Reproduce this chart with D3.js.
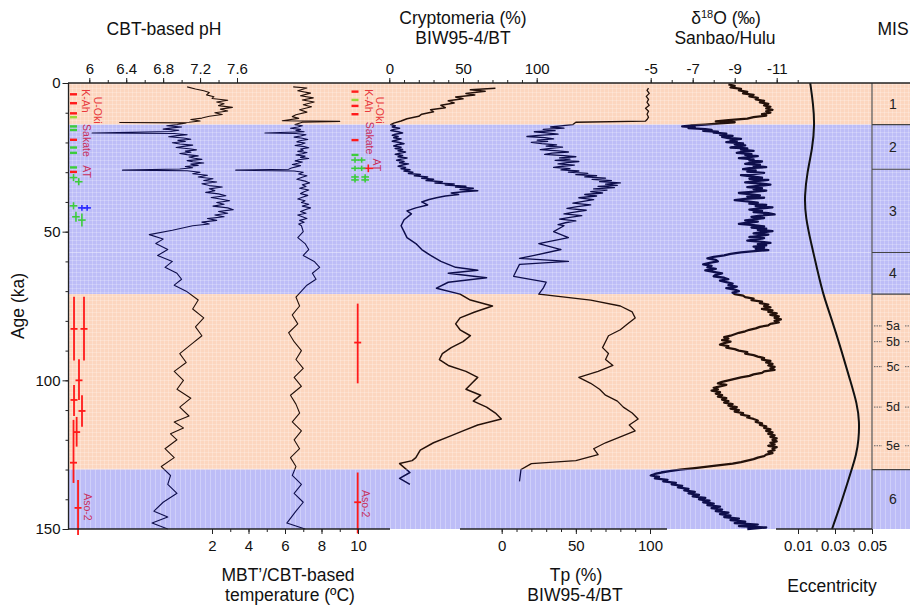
<!DOCTYPE html>
<html><head><meta charset="utf-8">
<script src="https://cdn.jsdelivr.net/npm/d3@7"></script>
<style>body{margin:0;background:#fff;} text{font-family:Arial,"Liberation Sans",sans-serif;}</style>
</head><body><svg id="c" width="910" height="605"></svg>
<script>
// ---------------- DATA ----------------
const misBands = [
  {from:0,to:14,kind:'warm',label:'1'},
  {from:14,to:29,kind:'cold',label:'2'},
  {from:29,to:57,kind:'cold',label:'3'},
  {from:57,to:71,kind:'cold',label:'4'},
  {from:71,to:130,kind:'warm',label:''},
  {from:130,to:150,kind:'cold',label:'6'}
];
const subStages = [['5a',81.7],['5b',87],['5c',95.4],['5d',109],['5e',122]];

const ageTicks = [0,50,100,150];
const phTicks = [6,6.4,6.8,7.2,7.6];
const tempTicks = [2,4,6,8,10];
const cryTicks = [0,50,100];
const tpTicks = [0,50,100];
const d18Ticks = [-5,-7,-9,-11];
const eccTicks = [0.01,0.03,0.05];

// [age ka, pH]
const phData = [[1.3,7.06],[2.0,7.15],[2.6,7.24],[3.2,7.30],[4.0,7.27],[4.6,7.35],[5.2,7.33],[5.8,7.50],[6.4,7.38],[7.0,7.46],[7.6,7.40],[8.2,7.55],[8.8,7.42],[9.4,7.50],[10.0,7.36],[10.6,7.44],[11.2,7.30],[11.8,7.22],[12.3,7.10],[12.8,7.20],[13.2,7.08],[13.3,6.33],[13.4,7.05],
[14.0,6.95],[14.4,6.84],[14.8,7.00],[15.1,6.90],[15.5,6.80],[15.9,6.97],[16.3,6.88],[16.8,6.03],[17.0,6.92],[17.4,7.06],[17.7,6.95],[18.1,6.86],[18.5,7.02],[18.9,7.10],[19.3,6.96],[19.7,7.04],[20.1,6.90],[20.5,6.98],[20.9,7.12],[21.3,7.02],[21.7,6.94],[22.1,7.08],[22.5,7.16],[22.9,7.04],[23.3,7.10],[23.7,6.98],[24.1,7.06],[24.5,7.18],[24.9,7.08],[25.3,7.14],[25.7,7.22],[26.1,7.06],[26.5,7.12],[26.9,7.24],[27.3,7.10],[27.7,7.18],[28.1,7.04],[28.5,7.12],[28.9,6.98],[29.3,6.36],[29.5,7.06],
[30.0,7.20],[30.5,7.12],[31.0,7.28],[31.6,7.18],[32.2,7.34],[32.8,7.24],[33.3,7.38],[33.9,7.22],[34.5,7.30],[35.0,7.44],[35.6,7.30],[36.2,7.36],[36.8,7.26],[37.3,7.40],[37.9,7.48],[38.5,7.32],[39.0,7.42],[39.6,7.52],[40.2,7.38],[40.8,7.46],[41.4,7.34],[42.0,7.50],[42.6,7.56],[43.2,7.40],[43.8,7.50],[44.4,7.36],[45.0,7.46],[45.6,7.28],[46.2,7.38],[46.8,7.22],[47.4,7.30],[48.0,7.12],
[49.5,6.90],[51,6.65],[52.5,6.80],[54,6.72],[56,6.85],[58,6.74],[60,6.90],[62,6.82],[64,6.95],[66,7.00],[68,6.92],[70,7.05],[73,7.18],[76,7.12],[79,7.24],[82,7.15],[85,7.22],[88,7.10],[91,6.98],[94,7.05],[97,6.92],[100,7.02],[103,6.95],[106,7.10],[109,6.98],[112,7.08],[114,6.92],[116,7.02],[118,6.88],[120,6.95],[123,6.82],[126,6.92],[129,6.78],[132,6.88],[135,6.85],[138,6.95],[141,6.80],[144,6.70],[146,6.85],[148,6.68],[150,6.85]];

// [age ka, MBT'/CBT temperature °C]
const tempData = [[1.3,6.45],[1.7,7.20],[2.6,6.70],[3.4,7.40],[4.3,6.85],[5.0,7.55],[5.7,6.95],[6.4,7.60],[7.3,7.0],[8.0,7.45],[9.0,6.80],[9.8,7.20],[10.7,6.60],[11.3,6.40],[11.9,6.75],[12.7,5.85],[12.9,9.0],[13.2,6.95],
[14.0,6.55],[14.4,6.95],[14.8,6.70],[15.2,6.30],[15.6,6.85],[16.0,6.60],[16.4,7.05],[16.8,4.9],[17.0,6.6],[17.4,7.15],[17.8,6.85],[18.2,6.50],[18.6,6.95],[19.0,7.25],[19.4,6.80],[19.8,6.65],[20.2,7.10],[20.6,6.90],[21.0,6.55],[21.4,7.05],[21.8,7.30],[22.2,6.85],[22.6,7.00],[23.0,6.70],[23.4,7.20],[23.8,6.95],[24.2,6.60],[24.6,7.10],[25.0,6.85],[25.4,7.30],[25.8,6.75],[26.2,6.55],[26.6,6.95],[27.0,6.70],[27.4,6.40],[27.8,6.85],[28.2,6.60],[28.6,6.35],[29.0,6.20],[29.3,3.3],[29.6,6.5],
[30.0,7.0],[30.6,6.75],[31.2,7.20],[31.8,6.90],[32.4,6.65],[33.0,7.10],[33.6,7.35],[34.2,6.95],[34.8,7.15],[35.4,6.80],[36.0,7.30],[36.6,7.05],[37.2,6.85],[37.8,7.25],[38.4,6.95],[39.0,6.70],[39.6,7.10],[40.2,6.90],[40.8,7.30],[41.4,6.95],[42.0,7.40],[42.6,7.10],[43.2,6.85],[43.8,7.15],[44.4,6.70],[45.0,6.95],[45.6,7.20],[46.2,6.80],[46.8,7.05],[47.4,6.75],[48.0,6.9],
[50,7.0],[52,6.7],[54,7.1],[56,7.3],[58,7.0],[60,7.6],[62,7.9],[64,7.5],[66,7.7],[68,7.2],[70,6.9],[72,6.6],[75,6.8],[78,6.4],[81,6.7],[84,6.2],[87,6.5],[90,6.9],[93,6.6],[96,7.0],[99,6.5],[102,6.9],[105,6.3],[108,6.6],[111,6.8],[114,6.4],[117,6.9],[120,6.5],[123,6.8],[126,6.3],[129,6.6],[132,6.4],[135,6.9],[138,6.5],[141,7.0],[144,6.6],[148,6.1],[150,7.1]];

// [age ka, Cryptomeria %]
const cryData = [[1.8,72],[2.3,55],[2.8,65],[3.5,52],[4.0,58],[4.7,45],[5.3,50],[6.0,40],[6.7,44],[7.5,35],[8.3,38],[9.0,28],[9.7,30],[10.5,22],[11.2,20],[12.0,12],[12.8,8],[13.5,3],
[14.0,1],[14.4,4],[14.8,2],[15.2,7],[15.6,3],[16.0,1],[16.4,6],[16.8,9],[17.2,4],[17.6,2],[18.0,6],[18.4,3],[18.8,8],[19.2,5],[19.6,2],[20.0,7],[20.4,10],[20.8,5],[21.2,3],[21.6,8],[22.0,4],[22.4,9],[22.8,6],[23.2,11],[23.6,7],[24.0,4],[24.4,9],[24.8,6],[25.2,12],[25.6,8],[26.0,5],[26.4,10],[26.8,7],[27.2,13],[27.6,9],[28.0,6],[28.4,11],[28.8,8],[29.2,14],
[29.6,10],[30.0,16],[30.4,13],[30.8,21],[31.2,17],[31.6,26],[32.0,22],[32.4,30],[32.8,25],[33.2,36],[33.6,31],[34.0,44],[34.3,38],[34.7,52],[35.0,45],[35.4,57],[35.8,48],[36.2,60],[36.6,50],[37.0,42],[37.5,47],[38.0,38],[38.6,32],[39.2,27],[40,22],[41,26],[42,18],[43,12],[44,15],[46,10],[48,8],
[50,10],[52,12],[54,18],[56,22],[58,28],[60,35],[62,45],[63,60],[64,40],[65.5,66],[67,40],[69,32],[71,48],[73,55],[75,70],[77,58],[79,48],[81,45],[83,48],[85,55],[87,50],[89,42],[91,36],[93,34],[95,40],[97,52],[99,60],[101,56],[103,52],[105,62],[107,57],[109,66],[111,72],[113,76],[115,60],[117,50],[119,40],[121,30],[123.5,21],[126,18],[127,15.5],[128,7],[131,14],[133,7],[135,14]];

// [age ka, Tp %]
const tpData = [[1.7,99],[2.5,98],[3.5,99.5],[4.5,97.5],[5.5,99],[6.5,98],[7.5,99.5],[8.5,97],[9.5,99],[10.5,98],[11.5,99],[12.3,98],[12.8,97],[13.2,50],
[14.0,48],[14.4,40],[14.8,33],[15.2,42],[15.6,28],[16.0,36],[16.4,22],[16.8,30],[17.2,38],[17.6,25],[18.0,17],[18.4,29],[18.8,35],[19.2,24],[19.6,31],[20.0,20],[20.4,27],[20.8,37],[21.2,30],[21.6,41],[22.0,33],[22.4,26],[22.8,38],[23.2,45],[23.6,34],[24.0,29],[24.4,42],[24.8,50],[25.2,39],[25.6,46],[26.0,36],[26.4,52],[26.8,44],[27.2,38],[27.6,49],[28.0,41],[28.4,35],[28.8,46],[29.2,40],
[29.6,52],[30.0,45],[30.4,58],[30.8,50],[31.2,64],[31.6,56],[32.0,70],[32.4,61],[32.8,74],[33.2,66],[33.6,80],[34.0,70],[34.4,78],[34.8,65],[35.2,76],[35.6,62],[36.0,71],[36.5,60],[37.0,68],[37.5,56],[38.0,64],[38.6,52],[39.2,62],[39.8,55],[40.4,48],[41.0,60],[41.6,51],[42.2,44],[42.8,57],[43.4,49],[44.0,42],[44.6,54],[45.2,46],[45.8,39],[46.4,50],[47.0,43],[47.6,38],[48.0,42],
[50,35],[52,45],[54,25],[56,40],[58,22],[59,12],[60,45],[61,12],[63,10],[65,8],[67,30],[69,28],[71,25],[73,60],[75,80],[77,88],[79,90],[81,85],[83,80],[85,72],[87,70],[89,68],[91,72],[93,70],[95,75],[97,65],[99,52],[101,60],[103,66],[105,70],[107,78],[109,82],[111,88],[113,92],[115,86],[117,90],[119,80],[121,70],[123,62],[125,65],[127,50],[128,20],[130,13],[134,12]];

// [age ka, δ18O ‰]
const d18Data = [[0.5,-8.7],[1.0,-9.0],[1.5,-8.8],[2.0,-9.3],[2.5,-9.2],[3.0,-9.6],[3.5,-9.4],[4.0,-9.9],[4.5,-9.7],[5.0,-10.1],[5.5,-10.0],[6.0,-10.4],[6.5,-10.2],[7.0,-10.6],[7.5,-10.4],[8.0,-10.7],[8.5,-10.5],[9.0,-10.8],[9.5,-10.5],[10.0,-10.7],[10.5,-10.3],[11.0,-10.5],[11.5,-9.9],[12.0,-9.6],[12.5,-8.7],[12.9,-8.1],[13.2,-9.0],[13.6,-8.3],
[14.0,-7.6],[14.3,-6.9],[14.6,-6.5],[14.9,-7.1],[15.2,-6.8],[15.5,-7.6],[15.8,-7.9],[16.1,-7.5],[16.4,-8.2],[16.7,-8.0],[17.0,-8.6],[17.4,-8.3],[17.8,-8.9],[18.1,-8.4],[18.5,-8.7],[18.8,-9.3],[19.2,-8.8],[19.5,-9.1],[19.9,-8.6],[20.3,-9.4],[20.6,-9.0],[21.0,-9.5],[21.3,-9.2],[21.7,-8.8],[22.0,-9.6],[22.4,-9.3],[22.8,-9.9],[23.1,-9.4],[23.5,-9.1],[23.9,-9.8],[24.2,-9.5],[24.6,-10.1],[25.0,-9.6],[25.3,-9.2],[25.7,-9.9],[26.1,-9.7],[26.4,-10.3],[26.8,-9.8],[27.2,-9.5],[27.5,-10.2],[27.9,-9.9],[28.3,-10.5],[28.6,-9.7],[29.0,-9.4],[29.4,-10.0],[29.8,-9.6],[30.2,-10.4],[30.6,-9.9],[31.0,-9.3],[31.4,-9.8],[31.8,-10.3],[32.2,-9.7],[32.6,-10.6],[33.0,-10.0],[33.4,-9.5],[33.8,-10.2],[34.2,-10.7],[34.6,-10.1],[35.0,-9.6],[35.4,-10.3],[35.8,-9.9],[36.2,-10.5],[36.6,-9.8],[37.0,-9.2],[37.4,-9.7],[37.8,-10.2],[38.2,-9.6],[38.6,-10.4],[39.0,-9.5],[39.4,-9.0],[39.8,-9.6],[40.2,-10.1],[40.6,-9.7],[41.0,-10.5],[41.4,-10.0],[41.8,-10.8],[42.2,-10.2],[42.6,-9.7],[43.0,-10.3],[43.4,-9.9],[43.8,-10.6],[44.2,-10.9],[44.6,-10.2],[45.0,-9.8],[45.4,-10.4],[45.8,-10.0],[46.2,-9.5],[46.6,-10.1],[47.0,-9.6],[47.4,-9.2],[47.8,-9.9],[48.2,-10.4],[48.6,-9.8],[49.0,-10.5],[49.4,-10.1],[49.8,-10.8],[50.2,-10.3],[50.6,-9.9],[51.0,-10.6],[51.4,-10.2],[51.8,-9.7],[52.2,-10.4],[52.6,-10.0],[53.0,-9.6],[53.4,-10.3],[53.8,-10.7],[54.2,-10.1],[54.6,-10.5],[55.0,-9.9],[55.4,-10.4],[55.8,-10.0],[56.2,-10.6],[56.6,-9.8],[57.0,-9.3],
[57.5,-8.8],[58,-8.5],[58.5,-8.0],[59,-7.7],[59.5,-8.1],[60,-8.2],[60.5,-7.8],[61,-7.5],[61.5,-7.9],[62,-7.7],[62.5,-8.1],[63,-7.6],[63.5,-8.0],[64,-8.4],[64.5,-8.1],[65,-8.0],[65.5,-8.5],[66,-8.7],[66.5,-8.3],[67,-8.6],[67.5,-8.9],[68,-8.7],[68.5,-9.1],[69,-8.6],[69.5,-9.0],[70,-9.2],[70.5,-8.9],
[71.0,-9.0],[71.5,-9.4],[72.0,-9.5],[72.5,-9.9],[73.0,-9.8],[73.5,-10.3],[74.0,-10.2],[74.5,-10.6],[75.0,-10.4],[75.5,-10.7],[76.0,-10.3],[76.5,-10.8],[77.0,-10.6],[77.5,-11.0],[78.0,-10.7],[78.5,-11.1],[79.0,-10.9],[79.5,-11.2],[80.0,-10.9],[80.5,-11.1],[81.0,-10.7],[81.5,-10.6],[82.0,-10.2],[82.5,-10.0],[83.0,-9.7],[83.5,-9.5],[84.0,-9.2],[84.5,-9.0],[85.0,-8.8],[85.5,-8.5],[86.0,-8.7],[86.5,-8.4],[87.0,-8.8],[87.5,-8.5],[88.0,-8.3],[88.5,-8.7],[89.0,-8.6],[89.5,-9.0],[90.0,-9.2],[90.5,-9.6],[91.0,-9.5],[91.5,-9.9],[92.0,-10.1],[92.5,-10.4],[93.0,-10.3],[93.5,-10.7],[94.0,-10.5],[94.5,-10.8],[95.0,-10.6],[95.5,-10.9],[96.0,-10.7],[96.5,-10.9],[97.0,-10.4],[97.5,-10.3],[98.0,-9.9],[98.5,-9.7],[99.0,-9.3],[99.5,-9.0],[100.0,-8.7],[100.5,-8.4],[101.0,-8.2],[101.5,-8.6],[102.0,-8.3],[102.5,-8.0],[103.0,-8.2],[103.5,-7.9],[104.0,-8.3],[104.5,-8.1],[105.0,-8.4],[105.5,-8.2],[106.0,-8.6],[106.5,-8.4],[107.0,-8.7],[107.5,-8.5],[108.0,-8.9],[108.5,-8.7],[109.0,-9.1],[109.5,-8.8],[110.0,-9.2],[110.5,-9.0],[111.0,-9.4],[111.5,-9.3],[112.0,-9.7],[112.5,-9.6],[113.0,-9.9],[113.5,-10.1],[114.0,-10.0],[114.5,-10.3],[115.0,-10.2],[115.5,-10.5],[116.0,-10.4],[116.5,-10.7],[117.0,-10.5],[117.5,-10.8],[118.0,-10.6],[118.5,-10.9],[119.0,-10.7],[119.5,-11.0],[120.0,-10.8],[120.5,-11.0],[121.0,-10.7],[121.5,-10.9],[122.0,-10.6],[122.5,-11.0],[123.0,-10.8],[123.5,-10.9],[124.0,-10.6],[124.5,-10.8],[125.0,-10.5],[125.5,-10.4],[126.0,-10.1],[126.5,-9.9],[127.0,-9.6],[127.5,-9.3],[128.0,-8.9],[128.5,-8.3],[129.0,-7.7],[129.5,-7.1],[130.0,-6.4],
[130.5,-5.9],[131,-5.5],[131.5,-5.2],[132,-5.0],[132.5,-5.4],[133,-5.2],[133.5,-5.8],[134,-5.6],[134.5,-6.2],[135,-6.0],[135.5,-6.5],[136,-6.3],[136.5,-6.8],[137,-6.6],[137.5,-7.1],[138,-6.8],[138.5,-7.3],[139,-7.0],[139.5,-7.6],[140,-7.3],[140.5,-7.8],[141,-7.5],[141.5,-8.0],[142,-7.7],[142.5,-8.3],[143,-7.9],[143.5,-8.4],[144,-8.1],[144.5,-8.7],[145,-8.3],[145.5,-8.8],[146,-8.5],[146.5,-9.2],[147,-8.8],[147.5,-9.5],[148,-9.0],[148.5,-10.1],[149,-9.2],[149.5,-10.5],[150,-9.6]];

// [age ka, eccentricity]
const eccData = [[0,0.0166],[7,0.0182],[14,0.0190],[22,0.0178],[30,0.0150],[38,0.0135],[45,0.0140],[55,0.0175],[63,0.0205],[71,0.0235],[80,0.0285],[90,0.0335],[100,0.0382],[108,0.0420],[114,0.0432],[120,0.0428],[125,0.0415],[130,0.0390],[140,0.0340],[150,0.0284]];

// Tephra markers: column, age, lane within column, colour key
const tephraDashes = [
  ['A',3.8,0,'r'],['A',6.8,0,'r'],['A',10.2,0,'r'],['A',11.5,0,'lg'],['A',14.6,0,'g'],['A',15.8,0,'g'],['A',19.1,0,'r'],['A',21.7,0,'g'],['A',23.5,0,'g'],['A',28.4,0,'g'],['A',29.9,0,'r'],
  ['B',2.9,0,'r'],['B',5.7,0,'lg'],['B',7.7,0,'r'],['B',10.5,0,'r'],['B',19.2,0,'r'],['B',24.2,0,'g']
];
// column, age, lane, colour, ± error (ka)
const tephraCrosses = [
  ['A',31.8,0,'g',1.2],['A',33.2,1.5,'g',1.2],['A',41.3,0,'g',1.2],['A',42.0,2.4,'b',1.0],['A',42.0,3.9,'b',1.0],['A',45.0,0.7,'g',1.7],['A',46.1,2.4,'g',2.2],
  ['B',25.9,0,'g',0.9],['B',25.9,1.9,'g',0.9],['B',28.7,3.8,'r',1.3],['B',28.7,0,'g',0.9],['B',28.7,1.9,'g',0.9],['B',31.6,0,'g',0.9],['B',31.6,2.9,'g',0.9],['B',32.6,0,'g',0.9],['B',32.6,2.9,'g',0.9]
];
// column, age, min age, max age, lane
const tephraBars = [
  ['A',82.7,71.9,93.3,0.15],['A',82.7,71.9,93.3,3.0],['A',100,92.9,106.6,1.57],['A',106.6,101.6,112.0,0.15],['A',110.3,105,115.6,2.43],['A',117.4,112.3,122.3,0.9],['A',127.7,113.3,134.5,0],['A',142.9,133.5,152,1.3],
  ['B',87.3,74.2,101,0.77],['B',141,131,151.5,0.77]
];
// column, name, centre age, lane, colour key
const tephraNames = [
  ['A','U-Oki',9.1,7,'lr'],['A','K-Ah',6.0,3.6,'lr'],['A','Sakate',19.3,3.8,'lp'],['A','AT',29.8,3.8,'lp'],['A','Aso-2',142.6,4.1,'lp'],
  ['B','U-Oki',9.1,7.1,'lr'],['B','K-Ah',6.0,4.0,'lr'],['B','Sakate',18.5,4.3,'lp'],['B','AT',27.5,6.3,'lp'],['B','Aso-2',141.5,3.1,'lp']
];

// ---------------- STYLE ----------------
const col = {warm:'#fcd6bf', cold:'#bdbdf7'};
const lineCol = {warm:'#24110a', cold:'#0e0e4c'};
const tCol = {r:'#ff1a1a', g:'#3ccc3c', lg:'#9ad83a', b:'#2a2aff', lr:'#e8383c', lp:'#c8305c'};

const svg = d3.select('#c');
const y = d3.scaleLinear().domain([0,150]).range([83,529]);
const xPH = d3.scaleLinear().domain([6,7.6]).range([89.3,237]);
const xT = d3.scaleLinear().domain([2,10]).range([212,358]);
const xCry = d3.scaleLinear().domain([0,100]).range([389.3,536.7]);
const xTp = d3.scaleLinear().domain([0,100]).range([501.7,650]);
const xO = d3.scaleLinear().domain([-5,-11]).range([650.7,776.7]);
const xE = d3.scaleLinear().domain([0.01,0.05]).range([798,872]);
const lane = {A: d3.scaleLinear().domain([0,4]).range([73.5,87.5]),
              B: d3.scaleLinear().domain([0,4]).range([355,369])};

const defs = svg.append('defs');
const pat = defs.append('pattern').attr('id','tex').attr('width',4).attr('height',4).attr('patternUnits','userSpaceOnUse');
pat.append('path').attr('d','M0 0.5H4M0.5 0V4').attr('stroke','#fff').attr('stroke-opacity',0.22).attr('stroke-width',1);
const pat2 = defs.append('pattern').attr('id','tex2').attr('width',5).attr('height',4).attr('patternUnits','userSpaceOnUse');
pat2.append('path').attr('d','M0.5 0V4').attr('stroke','#fff').attr('stroke-opacity',0.28).attr('stroke-width',1);

['warm','cold'].forEach(k=>{
  const cp = defs.append('clipPath').attr('id','clip-'+k);
  misBands.filter(b=>b.kind===k).forEach(b=>{
    const y0 = b.from===0 ? 60 : y(b.from);
    const y1 = b.to===150 ? 545 : y(b.to);
    cp.append('rect').attr('x',60).attr('width',830).attr('y',y0).attr('height',y1-y0);
  });
});

// backgrounds
const XL = 69, XR = 910, XMIS = 872;
svg.append('g').selectAll('rect').data(misBands).join('rect')
  .attr('x',XL).attr('width',XR-XL).attr('y',d=>y(d.from)).attr('height',d=>y(d.to)-y(d.from))
  .attr('fill',d=>col[d.kind]);
svg.append('g').selectAll('rect').data(misBands).join('rect')
  .attr('x',XL).attr('width',XR-XL).attr('y',d=>y(d.from)).attr('height',d=>y(d.to)-y(d.from))
  .attr('fill',d=>d.from===130?'url(#tex2)':'url(#tex)');

// curves
const series = [
  {data:phData, x:xPH, w:1.1},
  {data:tempData, x:xT, w:1.1},
  {data:cryData, x:xCry, w:1.5},
  {data:tpData, x:xTp, w:1.3},
  {data:d18Data, x:xO, w:2.3}
];
const gl = svg.append('g').attr('fill','none').attr('stroke-linejoin','round');
series.forEach(s=>{
  const line = d3.line().x(d=>s.x(d[1])).y(d=>y(d[0]));
  ['warm','cold'].forEach(k=>{
    gl.append('path').datum(s.data).attr('d',line).attr('stroke',lineCol[k]).attr('stroke-width',s.w)
      .attr('clip-path','url(#clip-'+k+')');
  });
});
gl.append('path').datum(eccData)
  .attr('d',d3.line().x(d=>xE(d[1])).y(d=>y(d[0])).curve(d3.curveBasis))
  .attr('stroke','#111').attr('stroke-width',2);

// tephra
const gt = svg.append('g');
gt.selectAll('.dash').data(tephraDashes).join('rect')
  .attr('x',d=>lane[d[0]](d[2])-3.5).attr('y',d=>y(d[1])-1.2).attr('width',7).attr('height',2.4)
  .attr('fill',d=>tCol[d[3]]);
tephraCrosses.forEach(d=>{
  const cx = lane[d[0]](d[2]), cy = y(d[1]);
  const w = d[3]==='r'?5:3.8;
  gt.append('line').attr('x1',cx-w).attr('x2',cx+w).attr('y1',cy).attr('y2',cy).attr('stroke',tCol[d[3]]).attr('stroke-width',1.6);
  gt.append('line').attr('x1',cx).attr('x2',cx).attr('y1',y(d[1]-d[4])).attr('y2',y(d[1]+d[4])).attr('stroke',tCol[d[3]]).attr('stroke-width',1.6);
});
tephraBars.forEach(d=>{
  const cx = lane[d[0]](d[4]), cy = y(d[1]);
  gt.append('line').attr('x1',cx-3.5).attr('x2',cx+3.5).attr('y1',cy).attr('y2',cy).attr('stroke',tCol.r).attr('stroke-width',1.8);
  gt.append('line').attr('x1',cx).attr('x2',cx).attr('y1',y(d[2])).attr('y2',y(d[3])).attr('stroke',tCol.r).attr('stroke-width',1.8);
});
gt.selectAll('.tn').data(tephraNames).join('text')
  .attr('transform',d=>`translate(${lane[d[0]](d[3])},${y(d[2])}) rotate(90)`)
  .attr('text-anchor','middle').attr('dy','0.35em').attr('font-size',10.5)
  .attr('fill',d=>tCol[d[4]]).text(d=>d[1]);

// MIS column
const gm = svg.append('g');
gm.append('line').attr('x1',XMIS).attr('x2',XMIS).attr('y1',83).attr('y2',529).attr('stroke','#555').attr('stroke-width',1.2);
gm.selectAll('.mb').data(misBands.slice(1)).join('line')
  .attr('x1',XMIS).attr('x2',XR).attr('y1',d=>y(d.from)).attr('y2',d=>y(d.from)).attr('stroke','#444').attr('stroke-width',1.2);
gm.selectAll('.ml').data(misBands.filter(d=>d.label)).join('text')
  .attr('x',893).attr('y',d=>y((d.from+d.to)/2)).attr('dy','0.35em').attr('text-anchor','middle')
  .attr('font-size',14).attr('fill','#222').text(d=>d.label);
subStages.forEach(s=>{
  const yy = y(s[1]);
  gm.append('text').attr('x',893).attr('y',yy).attr('dy','0.35em').attr('text-anchor','middle').attr('font-size',12.5).attr('fill','#222').text(s[0]);
  gm.append('line').attr('x1',874).attr('x2',882).attr('y1',yy).attr('y2',yy).attr('stroke','#666').attr('stroke-dasharray','1.5,1');
  gm.append('line').attr('x1',905).attr('x2',910).attr('y1',yy).attr('y2',yy).attr('stroke','#666').attr('stroke-dasharray','1.5,1');
});

// axes
function styleAxis(g){ g.select('.domain').remove(); g.selectAll('text').attr('font-size',15).attr('fill','#111').attr('font-family','Arial, "Liberation Sans", sans-serif'); g.selectAll('line').attr('stroke','#222'); }
function range(a,b,s){ const r=[]; for(let v=a; v<=b+1e-9; v+=s) r.push(+v.toFixed(4)); return r; }

// y axis
svg.append('g').attr('transform','translate(68.5,0)').call(d3.axisLeft(y).tickValues(range(0,150,10)).tickSize(3).tickFormat('')).call(styleAxis);
svg.append('g').attr('transform','translate(68.5,0)').call(d3.axisLeft(y).tickValues(ageTicks).tickSize(6).tickPadding(2).tickFormat(d3.format('d'))).call(styleAxis);
svg.append('line').attr('x1',68.5).attr('x2',68.5).attr('y1',83).attr('y2',529).attr('stroke','#222').attr('stroke-width',1.3);

// top axes
const topAx = (sc, minor, major, fmt)=>{
  svg.append('g').attr('transform','translate(0,83)').call(d3.axisTop(sc).tickValues(minor).tickSize(3).tickFormat('')).call(styleAxis);
  svg.append('g').attr('transform','translate(0,83)').call(d3.axisTop(sc).tickValues(major).tickSize(5).tickPadding(4).tickFormat(fmt)).call(styleAxis);
};
topAx(xPH, range(6,7.6,0.2), phTicks, d3.format('.1~f'));
topAx(xCry, range(0,100,10), cryTicks, d3.format('d'));
topAx(xO, range(-12,-5,1), d18Ticks, d=>String(d).replace('−','-'));
svg.append('line').attr('x1',68).attr('x2',XR).attr('y1',83).attr('y2',83).attr('stroke','#222').attr('stroke-width',1.3);

// bottom axes
const botAx = (sc, minor, major, fmt, x0, x1)=>{
  svg.append('g').attr('transform','translate(0,529)').call(d3.axisBottom(sc).tickValues(minor).tickSize(3).tickFormat('')).call(styleAxis);
  svg.append('g').attr('transform','translate(0,529)').call(d3.axisBottom(sc).tickValues(major).tickSize(5).tickPadding(6).tickFormat(fmt)).call(styleAxis);
  svg.append('line').attr('x1',x0).attr('x2',x1).attr('y1',529).attr('y2',529).attr('stroke','#222').attr('stroke-width',1.3);
};
botAx(xT, range(2,10,1), tempTicks, d3.format('d'), 68, 390);
botAx(xTp, range(0,100,10), tpTicks, d3.format('d'), 460, 667);
botAx(xE, range(0.01,0.05,0.01), eccTicks, d3.format('.2f'), 776, 872);

// titles
const T = (x,yy,s,size)=>svg.append('text').attr('x',x).attr('y',yy).attr('text-anchor','middle').attr('font-size',size||17.5).attr('fill','#111').text(s);
T(164,35,'CBT-based pH');
T(463,24,'Cryptomeria (%)');
T(463,44,'BIW95-4/BT');
const dt = svg.append('text').attr('x',726).attr('y',24).attr('text-anchor','middle').attr('font-size',17.5).attr('fill','#111');
dt.append('tspan').text('δ');
dt.append('tspan').attr('font-size',11).attr('dy',-6).text('18');
dt.append('tspan').attr('dy',6).text('O (‰)');
T(725,44,'Sanbao/Hulu');
T(893,35,'MIS');
T(288,581,'MBT\u2019/CBT-based');
T(290,601,'temperature (ºC)');
T(576,581,'Tp (%)');
T(575,601,'BIW95-4/BT');
T(832,592,'Eccentricity');
svg.append('text').attr('transform','translate(24,306) rotate(-90)').attr('text-anchor','middle').attr('font-size',17.5).attr('fill','#111').text('Age (ka)');
</script>
</body></html>
